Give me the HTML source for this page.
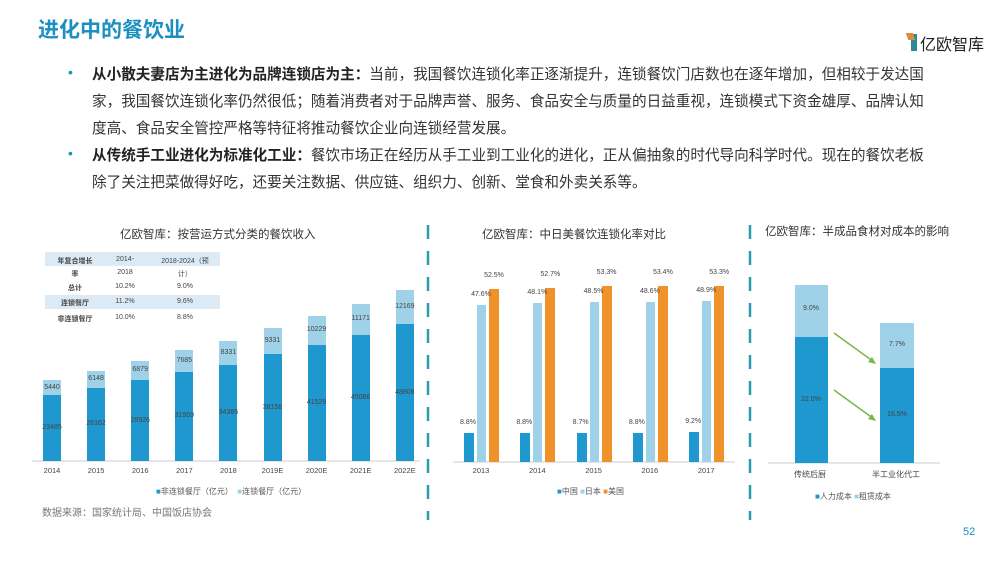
<!DOCTYPE html>
<html><head><meta charset="utf-8">
<style>
body{margin:0;width:1000px;height:563px;background:#fff;position:relative;overflow:hidden;font-family:"Liberation Sans","Noto Sans CJK SC",sans-serif;color:#333}
.a{position:absolute;white-space:nowrap}
.t{font-size:7px;color:#444;text-align:center}
.p{font-size:14.6px;color:#333;line-height:27px}
.p b{color:#222}
</style></head><body>
<div class="a" style="left:38px;top:14px;font-size:21px;font-weight:bold;color:#1a8fc0">进化中的餐饮业</div>
<div class="a" style="left:911px;top:34px;width:6px;height:17px;background:#2a8a9a"></div>
<div class="a" style="left:907px;top:33px;width:7px;height:7px;background:#e08a3a;transform:skewX(20deg)"></div>
<div class="a" style="left:920px;top:31px;font-size:16px;color:#222">亿欧智库</div>
<div class="a" style="left:68px;top:64px;font-size:14px;color:#1a8fc0">•</div>
<div class="a" style="left:68px;top:145px;font-size:14px;color:#1a8fc0">•</div>
<div class="a p" style="left:92px;top:62px"><b>从小散夫妻店为主进化为品牌连锁店为主：</b>当前，我国餐饮连锁化率正逐渐提升，连锁餐饮门店数也在逐年增加，但相较于发达国<br>家，我国餐饮连锁化率仍然很低；随着消费者对于品牌声誉、服务、食品安全与质量的日益重视，连锁模式下资金雄厚、品牌认知<br>度高、食品安全管控严格等特征将推动餐饮企业向连锁经营发展。</div>
<div class="a p" style="left:92px;top:143px"><b>从传统手工业进化为标准化工业：</b>餐饮市场正在经历从手工业到工业化的进化，正从偏抽象的时代导向科学时代。现在的餐饮老板<br>除了关注把菜做得好吃，还要关注数据、供应链、组织力、创新、堂食和外卖关系等。</div>
<div class="a" style="left:120px;top:226px;font-size:11.5px">亿欧智库：按营运方式分类的餐饮收入</div>
<div class="a" style="left:482px;top:226px;font-size:11.5px">亿欧智库：中日美餐饮连锁化率对比</div>
<div class="a" style="left:765px;top:223px;font-size:11.5px">亿欧智库：半成品食材对成本的影响</div>
<svg class="a" style="left:0;top:0" width="1000" height="563">
<line x1="428" y1="225" x2="428" y2="520" stroke="#2a9bb0" stroke-width="2.5" stroke-dasharray="14,12"/>
<line x1="750" y1="225" x2="750" y2="520" stroke="#2a9bb0" stroke-width="2.5" stroke-dasharray="14,12"/>
<line x1="32" y1="461" x2="420" y2="461" stroke="#ccc"/>
<line x1="453" y1="462" x2="735" y2="462" stroke="#ccc"/>
<line x1="768" y1="463" x2="940" y2="463" stroke="#ccc"/>
<line x1="834" y1="333" x2="874" y2="362" stroke="#7ab648" stroke-width="1.5"/>
<polygon points="876,364 868,362 872,357" fill="#7ab648"/>
<line x1="834" y1="390" x2="874" y2="419" stroke="#7ab648" stroke-width="1.5"/>
<polygon points="876,421 868,419 872,414" fill="#7ab648"/>
</svg>
<div class="a" style="left:45px;top:252px;width:175px;height:14px;background:#dbeaf4"></div>
<div class="a" style="left:45px;top:295px;width:175px;height:14px;background:#dbeaf4"></div>
<div class="a t" style="left:45px;top:256px;width:60px;font-weight:bold">年复合增长</div>
<div class="a t" style="left:45px;top:269px;width:60px;font-weight:bold">率</div>
<div class="a t" style="left:100px;top:256px;width:50px">2014-</div>
<div class="a t" style="left:100px;top:269px;width:50px">2018</div>
<div class="a t" style="left:150px;top:256px;width:70px">2018-2024（预</div>
<div class="a t" style="left:150px;top:269px;width:70px">计）</div>
<div class="a t" style="left:45px;top:283px;width:60px;font-weight:bold">总计</div><div class="a t" style="left:100px;top:283px;width:50px">10.2%</div><div class="a t" style="left:150px;top:283px;width:70px">9.0%</div>
<div class="a t" style="left:45px;top:298px;width:60px;font-weight:bold">连锁餐厅</div><div class="a t" style="left:100px;top:298px;width:50px">11.2%</div><div class="a t" style="left:150px;top:298px;width:70px">9.6%</div>
<div class="a t" style="left:45px;top:314px;width:60px;font-weight:bold">非连锁餐厅</div><div class="a t" style="left:100px;top:314px;width:50px">10.0%</div><div class="a t" style="left:150px;top:314px;width:70px">8.8%</div>
<div id="c"></div>
<div class="a" style="left:156px;top:486px;font-size:8px;color:#555"><span style="color:#1f97cf">■</span>非连锁餐厅（亿元） &nbsp;<span style="color:#9fd2e8">■</span>连锁餐厅（亿元）</div>
<div class="a" style="left:42px;top:504px;font-size:10px;color:#777">数据来源：国家统计局、中国饭店协会</div>
<div class="a" style="left:557px;top:486px;font-size:8px;color:#555"><span style="color:#1f97cf">■</span>中国 <span style="color:#9fd2e8">■</span>日本 <span style="color:#f0922a">■</span>美国</div>
<div class="a" style="left:815px;top:491px;font-size:8px;color:#555"><span style="color:#1f97cf">■</span>人力成本 <span style="color:#9fd2e8">■</span>租赁成本</div>
<div class="a t" style="left:780px;top:469px;width:60px;font-size:8px">传统后厨</div>
<div class="a t" style="left:866px;top:469px;width:60px;font-size:8px">半工业化代工</div>
<div class="a" style="left:963px;top:526px;font-size:11px;color:#1a8fc0">52</div>
<script>
var h='',D='#1f97cf',L='#9fd2e8',O='#f0922a';
function r(x,y,w,hh,c){h+='<div class="a" style="left:'+x+'px;top:'+y+'px;width:'+w+'px;height:'+hh+'px;background:'+c+'"></div>';}
function tx(x,y,s,w,fs){h+='<div class="a t" style="left:'+x+'px;top:'+y+'px;width:'+(w||40)+'px;font-size:'+(fs||7)+'px">'+s+'</div>';}
var yrs=['2014','2015','2016','2017','2018','2019E','2020E','2021E','2022E'],
nc=[23485,26162,28926,31959,34385,38158,41529,45066,48808],ch=[5440,6148,6879,7685,8331,9331,10229,11171,12169],k=0.0028;
for(var i=0;i<9;i++){var x=43+i*44.1,a=nc[i]*k,b=ch[i]*k;r(x,461-a,18,a,D);r(x,461-a-b,18,b,L);
tx(x-11,461-a/2-4,nc[i]);tx(x-11,461-a-b/2-4,ch[i]);tx(x-11,466,yrs[i],40,7.5);}
var cn=[8.8,8.8,8.7,8.8,9.2],jp=[47.6,48.1,48.5,48.6,48.9],us=[52.5,52.7,53.3,53.4,53.3],s=3.3;
for(i=0;i<5;i++){var x=464+i*56.3;r(x,462-cn[i]*s,10,cn[i]*s,D);r(x+13,462-jp[i]*s,9,jp[i]*s,L);r(x+25,462-us[i]*s,10,us[i]*s,O);
tx(x-16,462-cn[i]*s-14,cn[i]+'%');tx(x-3,462-jp[i]*s-14,jp[i]+'%');tx(x+10,462-us[i]*s-17,us[i]+'%');tx(x-3,466,2013+i,40,7.5);}
r(795,337,33,126,D);r(795,285,33,52,L);r(880,368,34,95,D);r(880,323,34,45,L);
tx(791,305,'9.0%');tx(791,396,'22.0%');tx(877,341,'7.7%');tx(877,411,'16.5%');
document.getElementById('c').innerHTML=h;
</script>
</body></html>
